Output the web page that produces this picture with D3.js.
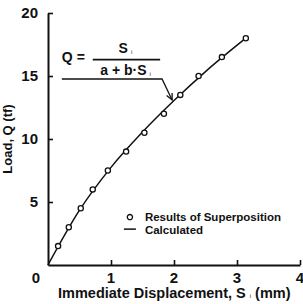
<!DOCTYPE html>
<html>
<head>
<meta charset="utf-8">
<script src="https://cdn.jsdelivr.net/npm/d3@7"></script>
<style>
  html, body { margin: 0; padding: 0; background: #fff; }
  text { font-family: "Liberation Sans", Arial, sans-serif; font-weight: bold; fill: #111; }
</style>
</head>
<body>
<div id="viz"></div>
<script>
// measured points (results of superposition)
const dispMeasured = [0.16, 0.33, 0.52, 0.71, 0.95, 1.24, 1.53, 1.84, 2.10, 2.39, 2.76, 3.14];
const loadMeasured = [1.5, 3.0, 4.5, 6.0, 7.5, 9.0, 10.5, 12.0, 13.5, 15.0, 16.5, 18.0];

// calculated curve
const dispCalc = [0, 0.5, 1.0, 1.5, 2.0, 2.5, 3.14];
const loadCalc = [0, 4.35, 7.75, 10.55, 13.05, 15.35, 18.0];

const xTicks = [1, 2, 3, 4];
const yTicks = [5, 10, 15, 20];

const measured = dispMeasured.map((d, i) => ({ s: d, q: loadMeasured[i] }));
const calc = dispCalc.map((d, i) => ({ s: d, q: loadCalc[i] }));

const dimensions = {
  width: 303,
  height: 304,
  margin: { top: 13, right: 3, bottom: 39, left: 48 },
};
dimensions.boundedWidth = dimensions.width - dimensions.margin.left - dimensions.margin.right;
dimensions.boundedHeight = dimensions.height - dimensions.margin.top - dimensions.margin.bottom;

const svg = d3.select('#viz').append('svg')
  .attr('width', dimensions.width)
  .attr('height', dimensions.height);

const viz = svg.append('g')
  .attr('transform', `translate(${dimensions.margin.left}, ${dimensions.margin.top})`);

const xScale = d3.scaleLinear().domain([0, 4]).range([0, dimensions.boundedWidth]);
const yScale = d3.scaleLinear().domain([0, 20]).range([dimensions.boundedHeight, 0]);

// axes (ticks point inward)
const xAxis = viz.append('g')
  .attr('transform', `translate(0, ${dimensions.boundedHeight})`)
  .call(d3.axisTop(xScale).tickValues(xTicks).tickSize(5).tickSizeOuter(0).tickFormat(''));
const yAxis = viz.append('g')
  .call(d3.axisRight(yScale).tickValues(yTicks).tickSize(5).tickSizeOuter(0).tickFormat(''));
viz.selectAll('.domain').attr('stroke', '#111').attr('stroke-width', 2);
viz.selectAll('.tick line').attr('stroke', '#111').attr('stroke-width', 1.6);

// tick labels
viz.selectAll('.xlab')
  .data(xTicks)
  .join('text')
    .attr('x', d => xScale(d))
    .attr('y', dimensions.boundedHeight + 18)
    .attr('text-anchor', 'middle')
    .attr('font-size', 15)
    .text(d => d);
viz.selectAll('.ylab')
  .data(yTicks)
  .join('text')
    .attr('x', -10)
    .attr('y', d => yScale(d) + 5)
    .attr('text-anchor', 'end')
    .attr('font-size', 15)
    .text(d => d);
viz.append('text')
  .attr('x', -8)
  .attr('y', dimensions.boundedHeight + 18)
  .attr('text-anchor', 'end')
  .attr('font-size', 15)
  .text('0');

// calculated line
const lineGenerator = d3.line()
  .x(d => xScale(d.s))
  .y(d => yScale(d.q))
  .curve(d3.curveMonotoneX);
viz.append('path')
  .attr('d', lineGenerator(calc))
  .attr('fill', 'none')
  .attr('stroke', '#111')
  .attr('stroke-width', 1.5);

// measured circles
viz.selectAll('circle.pt')
  .data(measured)
  .join('circle')
    .attr('class', 'pt')
    .attr('cx', d => xScale(d.s))
    .attr('cy', d => yScale(d.q))
    .attr('r', 2.6)
    .attr('fill', '#fff')
    .attr('stroke', '#111')
    .attr('stroke-width', 1.3);

// formula + leader arrow
const ann = viz.append('g');
ann.append('text').attr('x', xScale(0.22)).attr('y', yScale(16.1)).attr('font-size', 14).text('Q =');
ann.append('line')
  .attr('x1', xScale(0.71)).attr('x2', xScale(1.78))
  .attr('y1', yScale(16.3)).attr('y2', yScale(16.3))
  .attr('stroke', '#111').attr('stroke-width', 1.6);
const num = ann.append('text').attr('x', xScale(1.12)).attr('y', yScale(16.8)).attr('font-size', 14);
num.append('tspan').text('S');
num.append('tspan').attr('dx', 3).attr('dy', 1).attr('font-size', 6).attr('font-weight', 'normal').text('i');
const den = ann.append('text').attr('x', xScale(0.83)).attr('y', yScale(15.05)).attr('font-size', 14);
den.append('tspan').text('a + b·S');
den.append('tspan').attr('dx', 3).attr('dy', 1).attr('font-size', 6).attr('font-weight', 'normal').text('i');

const tip = { s: 1.97, q: 13.1 };
ann.append('path')
  .attr('d', d3.line()([
    [xScale(0.22), yScale(14.76)],
    [xScale(1.81), yScale(14.76)],
    [xScale(tip.s), yScale(tip.q)]
  ]))
  .attr('fill', 'none').attr('stroke', '#111').attr('stroke-width', 1.3);
// arrowhead
const tx = xScale(tip.s), ty = yScale(tip.q);
const ang = Math.atan2(ty - yScale(14.76), tx - xScale(1.81));
const ah = 7, spread = 0.45;
ann.append('path')
  .attr('d', d3.line()([
    [tx - ah * Math.cos(ang - spread), ty - ah * Math.sin(ang - spread)],
    [tx, ty],
    [tx - ah * Math.cos(ang + spread), ty - ah * Math.sin(ang + spread)]
  ]))
  .attr('fill', 'none').attr('stroke', '#111').attr('stroke-width', 1.3);

// legend
const legend = viz.append('g').attr('transform', `translate(${xScale(1.3)}, ${yScale(3.8)})`);
legend.append('circle').attr('cx', 0).attr('cy', 0).attr('r', 2.6)
  .attr('fill', '#fff').attr('stroke', '#111').attr('stroke-width', 1.3);
legend.append('text').attr('x', 15).attr('y', 3.5).attr('font-size', 11.5).text('Results of Superposition');
legend.append('line').attr('x1', -6).attr('x2', 6).attr('y1', 12).attr('y2', 12)
  .attr('stroke', '#111').attr('stroke-width', 1.5);
legend.append('text').attr('x', 15).attr('y', 17).attr('font-size', 11.5).text('Calculated');

// axis titles
const xTitle = svg.append('text')
  .attr('x', 58)
  .attr('y', 298)
  .attr('font-size', 14.5);
xTitle.append('tspan').text('Immediate Displacement, S');
xTitle.append('tspan').attr('dx', 4).attr('dy', 0).attr('font-size', 6).attr('font-weight', 'normal').text('i');
xTitle.append('tspan').attr('dx', 4).text('(mm)');

svg.append('text')
  .attr('transform', `translate(12, ${dimensions.margin.top + dimensions.boundedHeight / 2}) rotate(-90)`)
  .attr('text-anchor', 'middle')
  .attr('font-size', 13)
  .text('Load, Q (tf)');
</script>
</body>
</html>
